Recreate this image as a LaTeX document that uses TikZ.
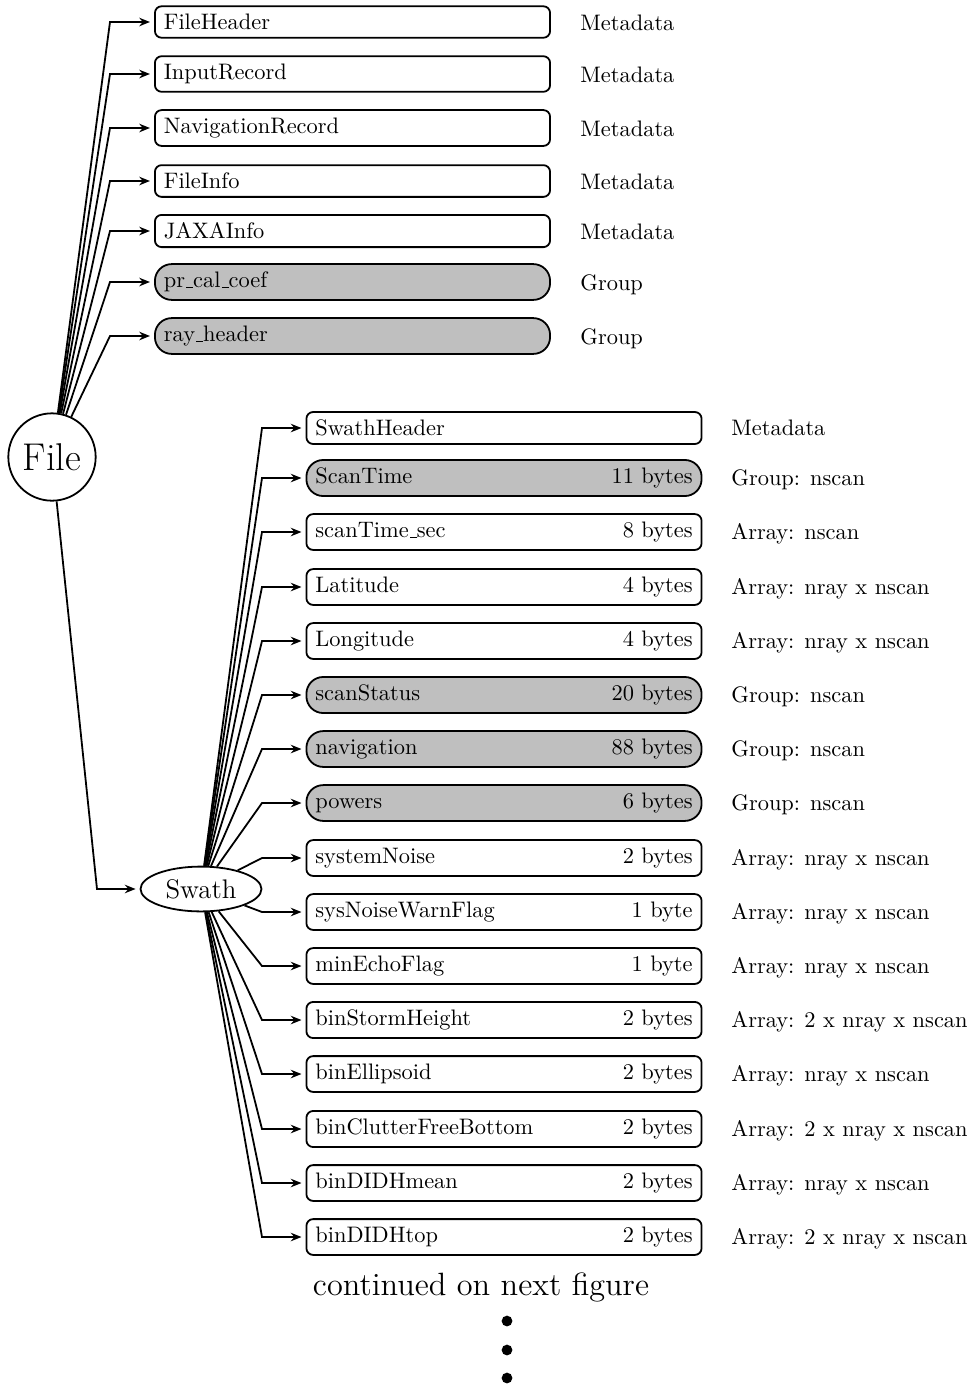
\documentclass[tikz,border=0pt]{standalone}
\usetikzlibrary{arrows.meta,shapes.geometric}
\newcommand\myus{\leavevmode\kern.06em\vbox{\hrule width.3em}}
\begin{document}
\begin{tikzpicture}[x=0.4464pt,y=-0.4464pt,
  >={Stealth[length=4.8pt,width=3.8pt,inset=1.6pt]},
  conn/.style={thick,->,shorten >=1.8pt},
  fbox/.style={draw,thick,rectangle,rounded corners=3pt,inner xsep=4pt,inner ysep=3.5pt,text width=168.4pt},
  gbox/.style={fbox,fill=gray!50,rounded corners=7.5pt},
  lab/.style={anchor=base west,inner sep=0pt},
  filenode/.style={draw,thick,circle,minimum size=39pt,inner sep=0pt,font=\LARGE},
  swathnode/.style={draw,thick,ellipse,font=\large,minimum width=54pt,minimum height=20pt,inner sep=0pt}]
\useasboundingbox (0,0) rectangle (973,1389);

% File node
\node[filenode] (file) at (52,457) {File};

% top level children
\node[fbox] (fh) at (352.5,22) {FileHeader};
\node[fbox] (ir) at (352.5,74) {InputRecord};
\node[fbox] (nr) at (352.5,128) {NavigationRecord};
\node[fbox] (fi) at (352.5,181) {FileInfo};
\node[fbox] (ja) at (352.5,231) {JAXAInfo};
\node[gbox] (pr) at (352.5,282) {pr\myus cal\myus coef};
\node[gbox] (ry) at (352.5,336) {ray\myus header};

\node[lab] (lfh) at (580,30) {Metadata};
\node[lab] (lir) at (580,82) {Metadata};
\node[lab] (lnr) at (580,136) {Metadata};
\node[lab] (lfi) at (580,189) {Metadata};
\node[lab] (lja) at (580,239) {Metadata};
\node[lab] (lpr) at (580,290) {Group};
\node[lab] (lry) at (580,344) {Group};

\foreach \n/\y in {fh/22,ir/74,nr/128,fi/181,ja/231,pr/282,ry/336}{
  \coordinate (b\n) at (110,\y);
  \draw[conn] (file) -- (b\n) -- (\n.west);
}

% Swath node
\node[swathnode] (swath) at (201,889) {Swath};
\coordinate (bsw) at (97,889);
\draw[conn] (file) -- (bsw) -- (swath.west);

% swath children
\node[fbox] (s1) at (504,428) {SwathHeader};
\node[gbox] (s2) at (504,478) {ScanTime\hfill 11 bytes};
\node[fbox] (s3) at (504,532) {scanTime\myus sec\hfill 8 bytes};
\node[fbox] (s4) at (504,587) {Latitude\hfill 4 bytes};
\node[fbox] (s5) at (504,641) {Longitude\hfill 4 bytes};
\node[gbox] (s6) at (504,695) {scanStatus\hfill 20 bytes};
\node[gbox] (s7) at (504,749) {navigation\hfill 88 bytes};
\node[gbox] (s8) at (504,803) {powers\hfill 6 bytes};
\node[fbox] (s9) at (504,858) {systemNoise\hfill 2 bytes};
\node[fbox] (s10) at (504,912) {sysNoiseWarnFlag\hfill 1 byte};
\node[fbox] (s11) at (504,966) {minEchoFlag\hfill 1 byte};
\node[fbox] (s12) at (504,1020) {binStormHeight\hfill 2 bytes};
\node[fbox] (s13) at (504,1074) {binEllipsoid\hfill 2 bytes};
\node[fbox] (s14) at (504,1129) {binClutterFreeBottom\hfill 2 bytes};
\node[fbox] (s15) at (504,1183) {binDIDHmean\hfill 2 bytes};
\node[fbox] (s16) at (504,1237) {binDIDHtop\hfill 2 bytes};

\foreach \n/\y/\t in {s1/428/Metadata,s2/478/Group: nscan,s3/532/Array: nscan,
  s4/587/Array: nray x nscan,s5/641/Array: nray x nscan,s6/695/Group: nscan,
  s7/749/Group: nscan,s8/803/Group: nscan,s9/858/Array: nray x nscan,
  s10/912/Array: nray x nscan,s11/966/Array: nray x nscan,s12/1020/Array: 2 x nray x nscan,
  s13/1074/Array: nray x nscan,s14/1129/Array: 2 x nray x nscan,s15/1183/Array: nray x nscan,
  s16/1237/Array: 2 x nray x nscan}{
  \node[lab] (l\n) at (731,\y+7.6) {\t};
  \coordinate (b\n) at (262,\y);
  \draw[conn] (swath) -- (b\n) -- (\n.west);
}

\node[anchor=base,inner sep=0pt,font=\Large] (cont) at (481,1295) {continued on next figure};
\foreach \y in {1321,1350,1378}{
  \fill (507,\y) circle (2.4pt);
}
\end{tikzpicture}
\end{document}
